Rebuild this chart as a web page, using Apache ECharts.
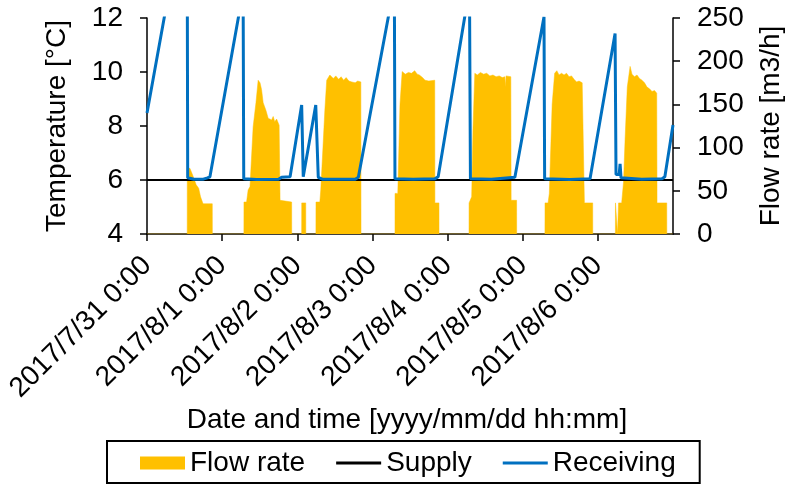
<!DOCTYPE html>
<html>
<head>
<meta charset="utf-8">
<script src="https://cdn.jsdelivr.net/npm/echarts@6/dist/echarts.min.js"></script>
<style>
html,body{margin:0;padding:0;background:#fff;overflow:hidden;}
#chart{width:785px;height:485px;}
</style>
</head>
<body>
<div id="chart"></div>
<script>
// x values are hours since 2017/7/31 0:00
var tickLabels = ["2017/7/31 0:00","2017/8/1 0:00","2017/8/2 0:00","2017/8/3 0:00","2017/8/4 0:00","2017/8/5 0:00","2017/8/6 0:00","2017/8/7 0:00"];

var flowRate = [
  [0,0],[12.85,0],[12.87,76],[13.2,74],[13.7,76],[14.6,68],[15.7,57],[16.5,53],[17.1,43],[17.9,35],[20.85,35],[20.87,0],
  [30.95,0],[30.97,37],[31.8,37],[32.3,51],[32.9,55],[33.9,124],[34.8,152],[35.5,178],[36.1,175],[36.6,167],[37.1,152],[38.0,143],[38.7,134],[39.8,132],[40.3,136],[40.8,130],[41.4,133],[42.2,126],[42.45,126],[42.5,39],[46.2,37],[46.22,0],
  [49.4,0],[49.42,36],[50.7,36],[50.72,0],
  [53.95,0],[53.97,37],[55.2,37],[55.5,51],[56.2,100],[56.8,143],[57.4,178],[58.4,184],[59.5,180],[60.3,183],[61.2,179],[62.0,182],[62.8,178],[63.6,181],[64.5,177],[65.4,176],[66.5,175],[67.3,177],[68.3,176],[68.35,0],
  [79.2,0],[79.22,47],[80.1,47],[80.8,150],[81.5,188],[82.5,185],[83.5,187],[84.5,186],[85.5,189],[86.3,185],[87.0,184],[88.0,181],[88.8,178],[90.0,177],[91.9,178],[91.95,36],[93.25,36],[93.27,0],
  [102.85,0],[102.87,36],[103.7,43],[104.1,120],[104.7,186],[105.5,184],[106.5,187],[107.5,185],[108.5,186],[109.5,183],[110.5,184],[111.5,182],[112.5,183],[113.5,181],[114.3,182],[114.4,170],[114.7,183],[116.2,182],[116.3,39],[118.05,39],[118.07,0],
  [127.1,0],[127.12,36],[128.1,36],[128.5,47],[129.4,150],[130.2,186],[130.9,189],[131.6,184],[132.4,186],[133.2,184],[134.0,186],[134.8,182],[135.6,183],[136.4,179],[137.2,176],[138.0,177],[139.0,175],[139.6,174],[139.7,36],[142.35,36],[142.37,0],
  [149.6,0],[149.62,36],[150.25,36],[150.27,0],[150.6,0],[150.62,36],[151.6,36],[152.2,60],[152.7,110],[153.4,170],[154.3,194],[154.9,185],[155.7,182],[156.5,184],[157.3,180],[158.1,178],[158.9,175],[159.7,170],[160.5,168],[161.3,165],[162.1,166],[162.8,163],[162.9,36],[166.0,36],[166.02,0],[168,0]
];

var supplyTemp = [[0,6.0],[168,6.0]];

var receivingTemp = [
  [0,8.48],[12.8,16.7],[13.0,6.08],[15.0,6.03],[18.0,6.03],[19.3,6.08],[20.1,6.12],
  [30.7,13.0],[30.9,6.05],[35.0,6.02],[42.0,6.03],[43.0,6.1],[45.7,6.12],
  [49.4,8.78],[49.9,6.12],[53.9,8.78],[54.7,6.1],[56.0,6.03],[66.5,6.03],[67.5,6.1],
  [79.0,13.23],[79.2,6.05],[85.0,6.03],[92.0,6.05],[93.0,6.12],
  [103.0,13.1],[103.3,6.05],[110.0,6.03],[117.5,6.1],
  [126.8,12.05],[127.0,6.05],[135.0,6.02],[141.5,6.05],[142.0,6.12],
  [149.5,11.43],[149.8,6.2],[150.8,6.2],[151.1,6.6],[151.4,6.08],[158.0,6.03],[164.5,6.05],[165.4,6.12],[168,8.04]
];

var FONT = "'Liberation Sans', Arial, sans-serif";
var LINE_ICON = 'path://M0,0H46V3H0Z';
var chart = echarts.init(document.getElementById('chart'), null, {renderer:'canvas'});
chart.setOption({
  animation:false,
  backgroundColor:'#fff',
  textStyle:{fontFamily:FONT,color:'#000'},
  grid:{left:147,right:112,top:18,bottom:251,containLabel:false,outerBoundsMode:'none'},
  legend:{
    left:107, top:441,
    padding:[8,24,6,33],
    borderColor:'#000', borderWidth:2,
    itemWidth:45, itemHeight:13, itemGap:31,
    symbolKeepAspect:true,
    textStyle:{fontSize:28,fontFamily:FONT,color:'#000'},
    data:[{name:'Flow rate',icon:'rect'},{name:'Supply',icon:LINE_ICON},{name:'Receiving',icon:LINE_ICON}]
  },
  xAxis:{
    type:'value', min:0, max:168, interval:24,
    name:'Date and time [yyyy/mm/dd hh:mm]', nameLocation:'middle', nameGap:169,
    nameTextStyle:{fontSize:28,fontFamily:FONT,color:'#000',padding:[0,6,0,0]},
    axisLine:{onZero:false,lineStyle:{color:'#000',width:1.5}},
    axisTick:{show:true,length:7,lineStyle:{color:'#000',width:1.5}},
    axisLabel:{rotate:45,margin:27,fontSize:28,fontFamily:FONT,color:'#000',showMaxLabel:false,
      formatter:function(v){return tickLabels[Math.round(v/24)];}},
    splitLine:{show:false}
  },
  yAxis:[{
    type:'value', min:4, max:12, interval:2, position:'left',
    name:'Temperature [°C]', nameLocation:'middle', nameGap:76, nameRotate:90,
    nameTextStyle:{fontSize:28,fontFamily:FONT,color:'#000'},
    axisLine:{show:true,lineStyle:{color:'#000',width:1.5}},
    axisTick:{show:true,length:7,lineStyle:{color:'#000',width:1.5}},
    axisLabel:{margin:24,fontSize:28,fontFamily:FONT,color:'#000'},
    splitLine:{show:false}
  },{
    type:'value', min:0, max:250, interval:50, position:'right',
    name:'Flow rate [m3/h]', nameLocation:'middle', nameGap:84, nameRotate:90,
    nameTextStyle:{fontSize:28,fontFamily:FONT,color:'#000'},
    axisLine:{show:true,lineStyle:{color:'#000',width:1.5}},
    axisTick:{show:true,length:7,lineStyle:{color:'#000',width:1.5}},
    axisLabel:{margin:24,fontSize:28,fontFamily:FONT,color:'#000'},
    splitLine:{show:false}
  }],
  series:[{
    name:'Flow rate', type:'line', yAxisIndex:1, data:flowRate,
    showSymbol:false, symbol:'none',
    lineStyle:{width:0.5,color:'#FFC000'},
    itemStyle:{color:'#FFC000'},
    areaStyle:{color:'#FFC000',opacity:1}
  },{
    name:'Supply', type:'line', yAxisIndex:0, data:supplyTemp,
    showSymbol:false, symbol:'none',
    lineStyle:{width:2.2,color:'#000'}, itemStyle:{color:'#000'}
  },{
    name:'Receiving', type:'line', yAxisIndex:0, data:receivingTemp,
    showSymbol:false, symbol:'none', clip:true,
    lineStyle:{width:3,color:'#0070C0'}, itemStyle:{color:'#0070C0'}
  }]
});
</script>
</body>
</html>
